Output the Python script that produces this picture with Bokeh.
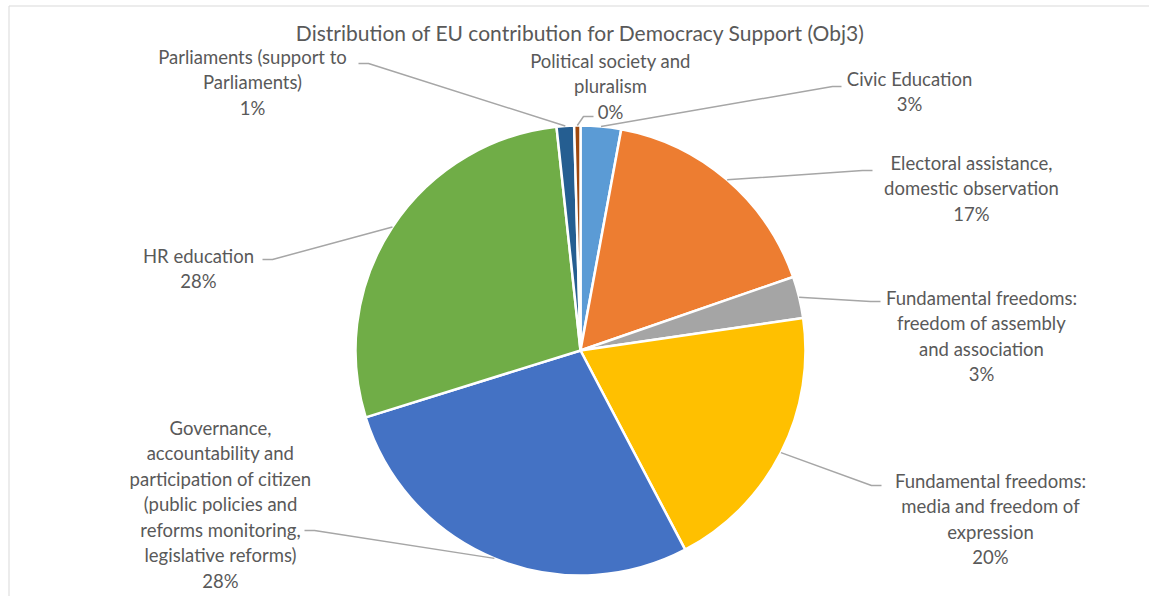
import math
from bokeh.plotting import figure
from bokeh.models import Range1d, ColumnDataSource
from bokeh.core.properties import value
from bokeh.embed import file_html
from bokeh.resources import INLINE

# ---------------- data ----------------
categories = [
    "Civic Education",
    "Electoral assistance,\ndomestic observation",
    "Fundamental freedoms:\nfreedom of assembly\nand association",
    "Fundamental freedoms:\nmedia and freedom of\nexpression",
    "Governance,\naccountability and\nparticipation of citizen\n(public policies and\nreforms monitoring,\nlegislative reforms)",
    "HR education",
    "Parliaments (support to\nParliaments)",
    "Political society and\npluralism",
]
shares = [2.9, 16.8, 3.0, 19.6, 27.9, 28.1, 1.25, 0.45]
colors = ["#5B9BD5", "#ED7D31", "#A5A5A5", "#FFC000", "#4472C4", "#70AD47", "#255E91", "#9E480E"]
title = "Distribution of EU contribution for Democracy Support (Obj3)"

# ---------------- layout (pixels, image coordinates) ----------------
W, H = 1149, 596
CX, CY, R = 580, 350, 225
# label block: centre x, first line y, leader attach point (x, y), elbow x
label_layout = [
    (909, 78, (841, 86), 832),
    (971, 162, (872, 170), 862),
    (981, 297, (880, 301), 870),
    (990, 480, (881, 485), 871),
    (220, 427, (304, 530), 314),
    (198, 255, (262, 259), 272),
    (252, 56, (358, 63), 368),
    (610, 60, (593, 116), 583),
]
LINE_H = 25.5
TEXT_COLOR = "#595959"
FONT = "Lato"

def Y(y):
    return H - y

p = figure(width=W, height=H, x_range=Range1d(0, W), y_range=Range1d(0, H),
           output_backend="svg", toolbar_location=None, min_border=0)
p.axis.visible = False
p.grid.visible = False
p.outline_line_color = None
p.background_fill_color = "white"

# chart border
p.quad(left=8.5, right=W + 20, top=Y(5.5), bottom=-20, fill_color=None,
       line_color="#d9d9d9", line_width=1)

total = sum(shares)
starts, ends, mids = [], [], []
cum = 0.0
for s in shares:
    a0 = math.pi / 2 - 2 * math.pi * (cum + s) / total
    a1 = math.pi / 2 - 2 * math.pi * cum / total
    starts.append(a0)
    ends.append(a1)
    mids.append((a0 + a1) / 2)
    cum += s

src = ColumnDataSource(dict(start=starts, end=ends, color=colors))
p.wedge(x=CX, y=Y(CY), radius=R, start_angle="start", end_angle="end",
        fill_color="color", line_color="white", line_width=2.5, source=src)

# leader lines
xs, ys = [], []
for (cx, ty, (ax, ay), ex), m in zip(label_layout, mids):
    px = CX + R * math.cos(m)
    py = Y(CY) + R * math.sin(m)
    xs.append([ax, ex, px])
    ys.append([Y(ay), Y(ay), py])
p.multi_line(xs=xs, ys=ys, line_color="#a6a6a6", line_width=1.5)

# labels
tx, ty_, tt = [], [], []
for name, s, (cx, ty, _, _) in zip(categories, shares, label_layout):
    lines = name.split("\n") + [f"{round(s / total * 100)}%"]
    for i, ln in enumerate(lines):
        tx.append(cx)
        ty_.append(Y(ty + i * LINE_H))
        tt.append(ln)
p.text(x=tx, y=ty_, text=tt, text_align="center", text_baseline="middle",
       text_font=value(FONT), text_font_size="18.5px", text_color=TEXT_COLOR)

p.text(x=[CX], y=[Y(32)], text=[title], text_align="center", text_baseline="middle",
       text_font=value(FONT), text_font_size="21px", text_color=TEXT_COLOR)

open("out.html", "w").write(file_html(p, INLINE))
